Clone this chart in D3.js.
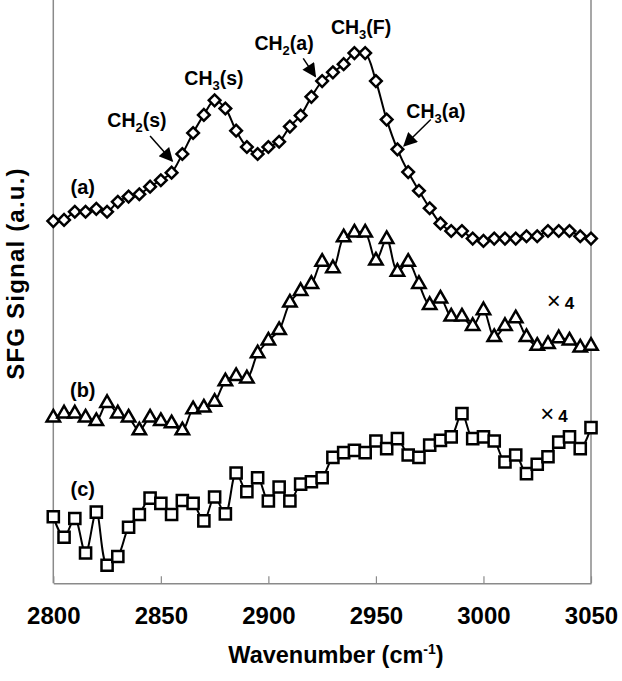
<!DOCTYPE html>
<html>
<head>
<meta charset="utf-8">
<script src="https://cdn.jsdelivr.net/npm/d3@7"></script>
<style>
  body { margin: 0; background: #fff; }
  text { font-family: Arial, "Liberation Sans", sans-serif; }
</style>
</head>
<body>
<div id="chart"></div>
<script>
// wavenumbers, 2800..3050 cm-1 every 5
var wavenumbers = [2800,2805,2810,2815,2820,2825,2830,2835,2840,2845,2850,2855,2860,2865,2870,2875,2880,2885,2890,2895,
  2900,2905,2910,2915,2920,2925,2930,2935,2940,2945,2950,2955,2960,2965,2970,2975,2980,2985,2990,2995,
  3000,3005,3010,3015,3020,3025,3030,3035,3040,3045,3050];

// (a) diamonds
var seriesA = [6.21,6.23,6.37,6.37,6.42,6.37,6.54,6.63,6.67,6.80,6.91,7.04,7.36,7.72,8.03,8.28,8.14,7.76,7.48,7.36,
  7.48,7.57,7.83,8.02,8.34,8.61,8.76,8.90,9.09,9.09,8.61,7.95,7.44,7.05,6.73,6.43,6.17,6.04,6.04,5.91,
  5.87,5.91,5.91,5.91,5.95,5.95,6.04,6.04,6.04,5.95,5.91];

// (b) triangles (x4)
var seriesB = [2.84,2.91,2.91,2.84,2.78,3.09,2.91,2.84,2.62,2.84,2.78,2.74,2.62,2.98,3.01,3.11,3.46,3.55,3.51,3.94,
  4.16,4.34,4.81,5.01,5.13,5.51,5.40,5.93,6.01,6.01,5.53,5.90,5.34,5.51,5.13,4.77,4.88,4.57,4.57,4.41,
  4.68,4.22,4.41,4.54,4.22,4.07,4.10,4.20,4.16,4.04,4.07];

// (c) squares (x4)
var seriesC = [1.14,0.79,1.11,0.52,1.22,0.31,0.46,0.96,1.18,1.46,1.37,1.18,1.42,1.37,1.07,1.48,1.19,1.89,1.57,1.81,
  1.41,1.65,1.41,1.70,1.74,1.81,2.16,2.24,2.28,2.24,2.44,2.31,2.48,2.20,2.16,2.37,2.45,2.51,2.91,2.48,
  2.51,2.44,2.08,2.20,1.88,2.04,2.17,2.42,2.51,2.31,2.67];

var xTicks = [2800, 2850, 2900, 2950, 3000, 3050];

// peak labels: [main, subscript, rest, wavenumber, signal]
var peakLabels = [
  ["CH", "2", "(s)", 2838.9, 7.82],
  ["CH", "3", "(s)", 2874.7, 8.54],
  ["CH", "2", "(a)", 2907.3, 9.14],
  ["CH", "3", "(F)", 2943.1, 9.42],
  ["CH", "3", "(a)", 2977.9, 7.98]
];
// arrows: [fromW, fromV, toW, toV]
var peakArrows = [
  [2845.0, 7.67, 2855.3, 7.24],
  [2916.2, 9.00, 2921.8, 8.69],
  [2975.5, 7.95, 2963.1, 7.50]
];
var curveLabels = [["(a)", 2813.7, 6.67], ["(b)", 2813.7, 3.20], ["(c)", 2813.7, 1.50]];
var scaleLabels = [[3029.4, 4.71], [3026.4, 2.77]];

var svgWidth = 622, svgHeight = 681;
var margin = {top: 0, left: 53.3, right: 31, bottom: 97.7};
var chartWidth = svgWidth - margin.left - margin.right;
var chartHeight = svgHeight - margin.top - margin.bottom;

var svg = d3.select("#chart").append("svg")
  .attr("width", svgWidth)
  .attr("height", svgHeight);

var chartGroup = svg.append("g")
  .attr("transform", `translate(${margin.left}, ${margin.top})`);

var x = d3.scaleLinear().domain([2800, 3050]).range([0, chartWidth]);
var y = d3.scaleLinear().domain([0, 10]).range([chartHeight, 0]);

var axisColor = "#8a8a8a";

// x axis with inward ticks
var xAxis = chartGroup.append("g")
  .attr("transform", `translate(0, ${chartHeight})`)
  .call(d3.axisBottom(x).tickValues(xTicks).tickSizeInner(-7).tickSizeOuter(0).tickPadding(23.5).tickFormat(d3.format("d")));
xAxis.select(".domain").attr("stroke", axisColor).attr("stroke-width", 1.5);
xAxis.selectAll(".tick line").attr("stroke", axisColor).attr("stroke-width", 1.2);
xAxis.selectAll(".tick text")
  .attr("fill", "#000")
  .style("font-size", "24px")
  .style("font-weight", "bold")
  .style("font-family", "Arial, 'Liberation Sans', sans-serif");

// left axis and right frame line
chartGroup.append("line")
  .attr("x1", 0).attr("x2", 0).attr("y1", 0).attr("y2", chartHeight)
  .attr("stroke", axisColor).attr("stroke-width", 1.5);
chartGroup.append("line")
  .attr("x1", chartWidth).attr("x2", chartWidth).attr("y1", 0).attr("y2", chartHeight)
  .attr("stroke", axisColor).attr("stroke-width", 1.5);

var line = d3.line()
  .x((d, i) => x(wavenumbers[i]))
  .y(d => y(d))
  .curve(d3.curveCatmullRom.alpha(0.5));

var allSeries = [
  {values: seriesA, symbol: d3.symbolSquare, size: 68, rotate: 45},
  {values: seriesB, symbol: d3.symbolTriangle, size: 78, rotate: 0},
  {values: seriesC, symbol: d3.symbolSquare, size: 124, rotate: 0}
];

allSeries.forEach(function(s) {
  chartGroup.append("path")
    .datum(s.values)
    .attr("fill", "none")
    .attr("stroke", "#000")
    .attr("stroke-width", 2)
    .attr("d", line);

  chartGroup.append("g").selectAll("path")
    .data(s.values)
    .enter()
    .append("path")
    .attr("d", d3.symbol().type(s.symbol).size(s.size))
    .attr("transform", (d, i) => `translate(${x(wavenumbers[i])}, ${y(d)}) rotate(${s.rotate})`)
    .attr("fill", "#fff")
    .attr("stroke", "#000")
    .attr("stroke-width", 2.5);
});

// arrowhead
svg.append("defs").append("marker")
  .attr("id", "arrowhead")
  .attr("viewBox", "0 0 10 10")
  .attr("refX", 9).attr("refY", 5)
  .attr("markerUnits", "userSpaceOnUse")
  .attr("markerWidth", 16).attr("markerHeight", 14)
  .attr("orient", "auto")
  .append("path")
  .attr("d", "M0,0L10,5L0,10z")
  .attr("fill", "#000");

chartGroup.selectAll(".peak-arrow")
  .data(peakArrows)
  .enter()
  .append("line")
  .attr("class", "peak-arrow")
  .attr("x1", d => x(d[0])).attr("y1", d => y(d[1]))
  .attr("x2", d => x(d[2])).attr("y2", d => y(d[3]))
  .attr("stroke", "#000")
  .attr("stroke-width", 1.5)
  .attr("marker-end", "url(#arrowhead)");

var peakText = chartGroup.selectAll(".peak-label")
  .data(peakLabels)
  .enter()
  .append("text")
  .attr("class", "peak-label")
  .attr("x", d => x(d[3]))
  .attr("y", d => y(d[4]))
  .attr("text-anchor", "middle")
  .style("font-size", "19.5px")
  .style("font-weight", "bold");
peakText.append("tspan").text(d => d[0]);
peakText.append("tspan").attr("dy", 5).style("font-size", "13px").text(d => d[1]);
peakText.append("tspan").attr("dy", -5).text(d => d[2]);

chartGroup.selectAll(".curve-label")
  .data(curveLabels)
  .enter()
  .append("text")
  .attr("class", "curve-label")
  .attr("x", d => x(d[1]))
  .attr("y", d => y(d[2]))
  .attr("text-anchor", "middle")
  .style("font-size", "20px")
  .style("font-weight", "bold")
  .text(d => d[0]);

var scaleText = chartGroup.selectAll(".scale-label")
  .data(scaleLabels)
  .enter()
  .append("text")
  .attr("class", "scale-label")
  .attr("x", d => x(d[0]))
  .attr("y", d => y(d[1]))
  .style("font-size", "17px");
scaleText.append("tspan").style("font-size", "24px").text("\u00d7");
scaleText.append("tspan").attr("dx", 4).style("font-weight", "bold").text("4");

// axis titles
var xTitle = svg.append("text")
  .attr("x", 336)
  .attr("y", 663)
  .attr("text-anchor", "middle")
  .style("font-size", "23.5px")
  .style("font-weight", "bold");
xTitle.append("tspan").text("Wavenumber (cm");
xTitle.append("tspan").attr("dy", -9).style("font-size", "14px").text("-1");
xTitle.append("tspan").attr("dy", 9).text(")");

svg.append("text")
  .attr("transform", "translate(24, 273.5) rotate(-90)")
  .attr("text-anchor", "middle")
  .style("font-size", "24px")
  .style("font-weight", "bold")
  .style("letter-spacing", "1.2px")
  .text("SFG Signal (a.u.)");
</script>
</body>
</html>
